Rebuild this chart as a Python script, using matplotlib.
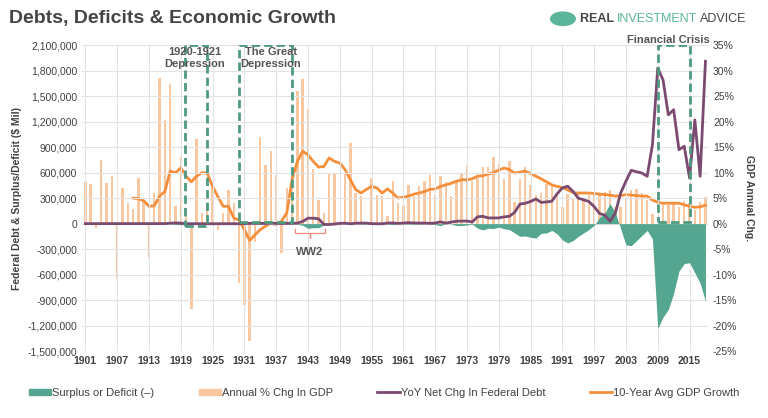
import numpy as np
import matplotlib
matplotlib.use("Agg")
import matplotlib.pyplot as plt
from matplotlib.patches import Rectangle, Circle
from matplotlib.lines import Line2D

plt.rcParams["font.family"] = ["Liberation Sans", "DejaVu Sans"]

years = np.arange(1901, 2019)

# annual % change in nominal GDP, 1901-2018
gdp_chg = [8.2, 7.8, -0.8, 12.4, 8.0, 9.3, -10.8, 7.0, 4.0, 2.9,
           9.0, 4.4, -6.7, 6.0, 28.6, 20.4, 27.3, 3.4, 13.0, 3.0,
           -16.7, 16.5, 2.0, 4.0, 7.0, -1.2, 2.0, 6.5, 4.0, -11.6,
           -15.9, -23.0, -3.6, 17.0, 11.4, 14.3, 9.5, -5.8, 7.0, 10.0,
           26.0, 28.4, 22.5, 10.7, 4.7, 2.0, 9.8, 10.0, -0.5, 10.0,
           15.8, 6.0, 5.4, 0.4, 9.0, 5.6, 5.5, 1.5, 8.4, 4.0,
           3.5, 7.5, 5.5, 7.4, 8.4, 9.5, 5.7, 9.3, 8.2, 5.5,
           8.5, 9.8, 11.4, 8.4, 9.0, 11.2, 11.1, 13.0, 11.7, 8.8,
           12.2, 4.3, 8.7, 11.1, 7.6, 5.6, 6.1, 7.7, 7.5, 5.7,
           3.3, 5.9, 5.1, 6.3, 4.8, 5.7, 6.2, 5.7, 6.3, 6.5,
           3.3, 3.3, 4.9, 6.6, 6.7, 6.0, 4.6, 1.8, -2.0, 3.8,
           3.7, 4.1, 3.3, 4.4, 4.0, 2.7, 4.2, 5.3]

# 10-year average GDP growth, 1910-2018
avg_years = np.arange(1910, 2019)
avg10 = [5.0, 4.9, 4.5, 3.4, 3.5, 5.4, 6.3, 10.3, 10.0, 10.9,
         9.3, 8.2, 9.3, 10.0, 9.9, 7.3, 5.3, 3.4, 3.4, 1.1,
         0.7, -1.2, -3.3, -2.2, -1.2, -0.5, 0.1, -0.2, 0.5, 2.1,
         8.6, 12.2, 14.2, 13.5, 12.2, 11.1, 11.2, 12.9, 12.2, 11.9,
         10.6, 8.6, 6.7, 6.0, 6.7, 7.3, 7.0, 6.0, 6.8, 6.0,
         5.0, 5.2, 5.4, 5.8, 6.0, 6.3, 6.7, 6.8, 7.3, 7.6,
         7.9, 8.3, 8.6, 8.6, 8.8, 9.3, 9.4, 9.7, 10.0, 10.5,
         10.9, 10.6, 9.9, 10.1, 10.3, 9.8, 9.3, 8.8, 8.2, 7.6,
         7.3, 7.1, 6.6, 6.1, 6.0, 6.0, 6.0, 5.9, 5.8, 5.7,
         5.6, 5.4, 5.5, 5.7, 5.6, 5.5, 5.4, 5.4, 4.6, 4.2,
         4.0, 4.0, 4.0, 4.0, 3.7, 3.4, 3.2, 3.3, 3.6]

# YoY net change in federal debt ($ mil), 1901-2018
debt_chg = [0, 0, 0, 0, 0, 0, 0, 0, 0, 0,
            0, 0, 0, 0, 0, 0, 5000, 8000, 6000, -1000,
            -1000, -1000, -1000, -1000, -1000, -1000, -1000, -1000, -1000, -1000,
            600, 3000, 3000, 4000, 2000, 5000, 3000, 1000, 3000, 3000,
            6000, 25000, 64000, 64000, 57000, -10000, -10000, -5000, 3000, 5000,
            -2000, 5000, 7000, 5000, 0, -2000, -1000, 6000, 9000, 2000,
            7000, 11000, 8000, 6000, 6000, 4000, 7000, 21000, 6000, 17000,
            28000, 30000, 30000, 20000, 80000, 86000, 67000, 67000, 67000, 80000,
            86000, 133000, 230000, 240000, 260000, 290000, 250000, 255000, 263000, 350000,
            420000, 440000, 380000, 300000, 280000, 260000, 200000, 120000, 100000, 27000,
            125000, 360000, 500000, 627000, 610000, 596000, 557000, 929000, 1830000, 1690000,
            1280000, 1340000, 870000, 910000, 537000, 1220000, 557000, 1910000]

# surplus (+) or deficit (-) ($ mil), 1901-2018
surplus = [0, 0, 0, 0, 0, 0, 0, 0, 0, 0,
           0, 0, 0, 0, 0, 0, -2000, -9000, -13000, 0,
           1000, 1000, 1000, 1000, 1000, 1000, 1000, 1000, 1000, 1000,
           -500, -3000, -3000, -4000, -3000, -4000, -3000, -1000, -3000, -3000,
           -5000, -20000, -55000, -48000, -48000, -16000, 4000, 12000, 1000, -3000,
           6000, -2000, -7000, -1000, -3000, 4000, 3000, -3000, -13000, 0,
           -3000, -7000, -5000, -6000, -1000, -4000, -9000, -25000, 3000, -3000,
           -23000, -23000, -15000, -6000, -53000, -74000, -54000, -59000, -41000, -60000,
           -70000, -110000, -150000, -145000, -160000, -170000, -115000, -110000, -80000, -120000,
           -190000, -228000, -200000, -150000, -110000, -70000, -20000, 70000, 125000, 236000,
           128000, -60000, -250000, -259000, -200000, -140000, -80000, -180000, -1235000, -1100000,
           -1010000, -820000, -560000, -470000, -460000, -580000, -700000, -914000]

TEAL = "#55a690"
PEACH = "#f9c7a0"
PURPLE = "#7b4a70"
ORANGE = "#f58f3c"
GREY = "#404040"

fig = plt.figure(figsize=(7.68, 4.18), dpi=100)
ax = fig.add_axes([0.107, 0.160, 0.815, 0.732])
ax2 = ax.twinx()
ax.set_zorder(ax2.get_zorder() + 1)
ax.patch.set_visible(False)

ax2.bar(years, gdp_chg, width=0.45, color=PEACH, zorder=2)
ax2.plot(avg_years, avg10, color=ORANGE, lw=2, zorder=4)
ax2.set_ylim(-25, 35)
ax2.set_yticks(np.arange(-25, 36, 5))
ax2.set_yticklabels([f"{v}%" for v in range(-25, 36, 5)])

ax.fill_between(years, surplus, 0, color=TEAL, lw=0, zorder=3)
ax.plot(years, debt_chg, color=PURPLE, lw=2, zorder=5)
ax.set_ylim(-1_500_000, 2_100_000)
ax.set_yticks(np.arange(-1_500_000, 2_100_001, 300_000))
ax.yaxis.set_major_formatter(matplotlib.ticker.FuncFormatter(lambda v, p: f"{int(v):,}"))

ax.set_xlim(1900.4, 2018.5)
ax.set_xticks(np.arange(1901, 2016, 6))
ax.grid(True, color="#e3e3e3", lw=0.8)
ax2.grid(False)
for a in (ax, ax2):
    for s in a.spines.values():
        s.set_visible(False)
    a.tick_params(length=0, labelsize=7.5, colors=GREY)
for lab in ax.get_xticklabels():
    lab.set_fontweight("bold")

ax.set_ylabel("Federal Debt & Surplus/Deficit ($ Mil)", fontsize=7.5, fontweight="bold", color=GREY)
ax2.set_ylabel("GDP Annual Chg.", fontsize=7.5, fontweight="bold", color=GREY, rotation=270, labelpad=12)

# crisis boxes
box_kw = dict(fill=False, ec="#4e9a80", lw=2, ls=(0, (3, 1.5)), zorder=6)
ax.add_patch(Rectangle((1919.8, -25000), 4.1, 2_125_000, **box_kw))
ax.add_patch(Rectangle((1929.9, 25000), 10.0, 2_075_000, **box_kw))
ax.add_patch(Rectangle((2009.0, 25000), 6.1, 2_075_000, **box_kw))
txt_kw = dict(fontsize=8, fontweight="bold", color="#555555", ha="center", va="bottom",
              zorder=7, linespacing=1.2)
ax.text(1921.6, 1_820_000, "1920-1921\nDepression", **txt_kw)
ax.text(1936.0, 1_820_000, "The Great\nDepression", **txt_kw)
ax.text(2011.0, 2_100_000, "Financial Crisis", **txt_kw)

# WW2 bracket
bx = [1940.6, 1940.6, 1943.4, 1943.4, 1943.4, 1946.2, 1946.2]
by = [-60000, -110000, -110000, -170000, -110000, -110000, -60000]
ax.plot(bx, by, color="#f08a80", lw=0.9, zorder=6)
ax.text(1943.4, -330000, "WW2", fontsize=8, fontweight="bold", color="#555555",
        ha="center", va="center")

# title and logo
fig.text(0.012, 0.955, "Debts, Deficits & Economic Growth", fontsize=14, fontweight="bold",
         color="#444444", va="center")
fig.patches.append(Circle((0.733, 0.955), 0.016, transform=fig.transFigure, color="#5bb59a",
                          figure=fig))
logo = fig.text(0.755, 0.955, "REAL ", fontsize=9, fontweight="bold", color="#444444", va="center")
fig.canvas.draw()
r = fig.canvas.get_renderer()
x1 = logo.get_window_extent(r).x1 / fig.bbox.width
t2 = fig.text(x1, 0.955, "INVESTMENT", fontsize=9, color="#5bb59a", va="center")
x2 = t2.get_window_extent(r).x1 / fig.bbox.width
fig.text(x2 + 0.004, 0.955, "ADVICE", fontsize=9, color="#444444", va="center")

handles = [Rectangle((0, 0), 1, 1, color=TEAL), Rectangle((0, 0), 1, 1, color=PEACH),
           Line2D([], [], color=PURPLE, lw=2), Line2D([], [], color=ORANGE, lw=2)]
labels = ["Surplus or Deficit (\u2013)", "Annual % Chg In GDP",
          "YoY Net Chg In Federal Debt", "10-Year Avg GDP Growth"]
leg = fig.legend(handles, labels, loc="center", bbox_to_anchor=(0.50, 0.06), ncol=4,
                 frameon=False, fontsize=8, handlelength=2.0, handleheight=0.5,
                 columnspacing=4.0, handletextpad=0.1)
for t in leg.get_texts():
    t.set_color(GREY)

fig.savefig("out.png", dpi=100)
